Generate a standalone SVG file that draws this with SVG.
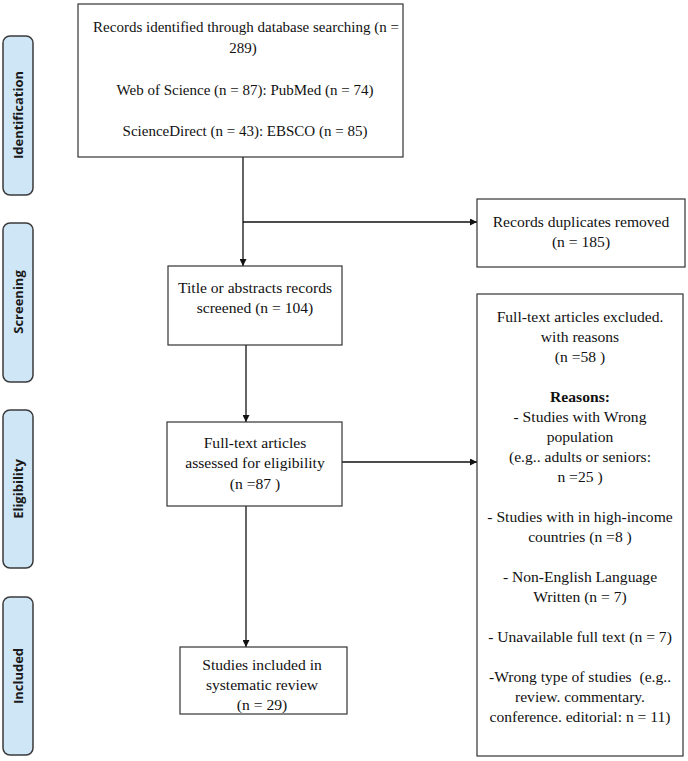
<svg xmlns="http://www.w3.org/2000/svg" width="688" height="761" viewBox="0 0 688 761">
<style>
.bg{fill:#ffffff}
.phase rect{fill:#cfe6f7;stroke:#3a3a3a;stroke-width:1.5}
.phase text{font-family:"Open Sans","DejaVu Sans",sans-serif;font-weight:bold;font-size:13px;fill:#1a1a1a;text-anchor:middle;dominant-baseline:central}
.box rect{fill:#ffffff;stroke:#333333;stroke-width:1.2}
.box text{font-family:"Liberation Serif","Times New Roman",serif;font-size:15.6px;fill:#111111;text-anchor:middle}
#node-identified text{font-size:15px}
.box text.b{font-weight:bold}
.conn line{stroke:#111111;stroke-width:1.3;fill:none}
</style>
<defs>
<marker id="ah" viewBox="0 0 10 10" refX="10" refY="5" markerWidth="7" markerHeight="7" markerUnits="userSpaceOnUse" orient="auto">
<path d="M0,0 L10,5 L0,10 Z" fill="#111111"/>
</marker>
</defs>
<rect class="bg" x="0" y="0" width="688" height="761"/>

<g id="phase-identification" class="phase">
<rect x="3" y="36" width="30" height="159" rx="7"/>
<text transform="translate(18,115) rotate(-90)">Identification</text>
</g>
<g id="phase-screening" class="phase">
<rect x="3" y="223" width="30" height="159" rx="7"/>
<text transform="translate(18,302) rotate(-90)">Screening</text>
</g>
<g id="phase-eligibility" class="phase">
<rect x="3" y="410" width="30" height="158" rx="7"/>
<text transform="translate(18,489) rotate(-90)">Eligibility</text>
</g>
<g id="phase-included" class="phase">
<rect x="3" y="597" width="30" height="158" rx="7"/>
<text transform="translate(18,676) rotate(-90)">Included</text>
</g>

<g id="conns" class="conn">
<line x1="243" y1="157" x2="243" y2="266" marker-end="url(#ah)"/>
<line x1="243" y1="222" x2="477" y2="222" marker-end="url(#ah)"/>
<line x1="246" y1="345" x2="246" y2="422" marker-end="url(#ah)"/>
<line x1="342" y1="462" x2="477" y2="462" marker-end="url(#ah)"/>
<line x1="246" y1="506" x2="246" y2="647" marker-end="url(#ah)"/>
</g>

<g id="node-identified" class="box">
<rect x="78" y="4" width="325" height="153"/>
<text x="246" y="32">Records identified through database searching (n =</text>
<text x="243" y="53">289)</text>
<text x="245" y="95">Web of Science (n = 87): PubMed (n = 74)</text>
<text x="245" y="136">ScienceDirect (n = 43): EBSCO (n = 85)</text>
</g>

<g id="node-duplicates" class="box">
<rect x="477" y="199" width="208" height="68"/>
<text x="581" y="227">Records duplicates removed</text>
<text x="581" y="247">(n = 185)</text>
</g>

<g id="node-screened" class="box">
<rect x="168" y="266" width="174" height="79"/>
<text x="255" y="293">Title or abstracts records</text>
<text x="255" y="313">screened (n = 104)</text>
</g>

<g id="node-fulltext" class="box">
<rect x="167" y="422" width="175" height="84"/>
<text x="255" y="448">Full-text articles</text>
<text x="255" y="468">assessed for eligibility</text>
<text x="255" y="489">(n =87 )</text>
</g>

<g id="node-excluded" class="box">
<rect x="477" y="294" width="206" height="462"/>
<text x="580" y="322">Full-text articles excluded.</text>
<text x="580" y="342">with reasons</text>
<text x="580" y="362">(n =58 )</text>
<text x="580" y="402" class="b">Reasons:</text>
<text x="580" y="422">- Studies with Wrong</text>
<text x="580" y="442">population</text>
<text x="580" y="462">(e.g.. adults or seniors:</text>
<text x="580" y="482">n =25 )</text>
<text x="580" y="522">- Studies with in high-income</text>
<text x="580" y="542">countries (n =8 )</text>
<text x="580" y="582">- Non-English Language</text>
<text x="580" y="602">Written (n = 7)</text>
<text x="580" y="642">- Unavailable full text (n = 7)</text>
<text x="580" y="682" xml:space="preserve">-Wrong type of studies  (e.g..</text>
<text x="580" y="702">review. commentary.</text>
<text x="580" y="722">conference. editorial: n = 11)</text>
</g>

<g id="node-included" class="box">
<rect x="180" y="647" width="167" height="67"/>
<text x="262" y="670">Studies included in</text>
<text x="262" y="690">systematic review</text>
<text x="262" y="710">(n = 29)</text>
</g>
</svg>
